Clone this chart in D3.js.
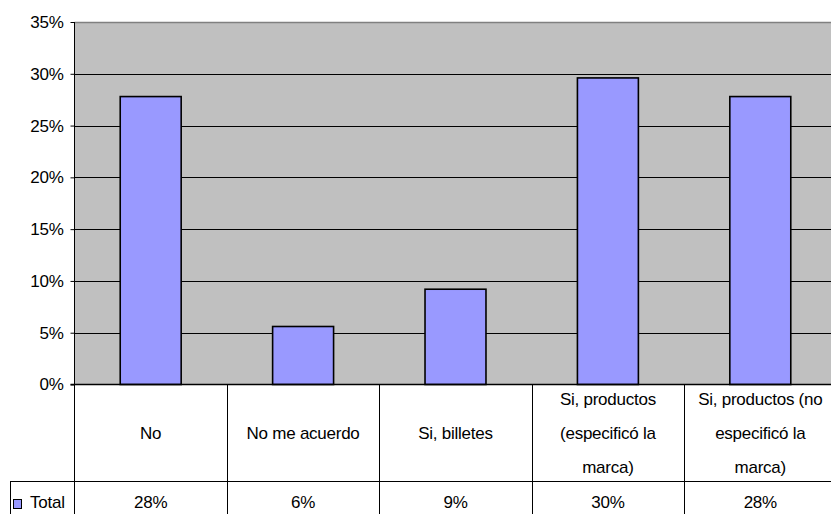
<!DOCTYPE html>
<html>
<head>
<meta charset="utf-8">
<script src="https://cdn.jsdelivr.net/npm/d3@7"></script>
<style>
  html, body { margin: 0; padding: 0; background: #fff; }
  svg { display: block; font-family: "Liberation Sans", Arial, sans-serif; }
</style>
</head>
<body>
<svg id="chart" width="831" height="514"></svg>
<script>
// Survey answers and the share of respondents for each
const categories = [
  "No",
  "No me acuerdo",
  "Si, billetes",
  "Si, productos (especificó la marca)",
  "Si, productos (no especificó la marca)"
];
const totalValues = [0.278, 0.056, 0.092, 0.296, 0.278];
const seriesName = "Total";
const yTicks = [0, 0.05, 0.10, 0.15, 0.20, 0.25, 0.30, 0.35];

const svg = d3.select("#chart");
const W = 831, H = 514;
const plot = { left: 74.5, right: 836.5, top: 22, bottom: 384.5 };
const table = { headerBottom: 481, legendLeft: 10 };
const fontSize = 17;
const spacing = "-0.25px";
const fmt = d3.format(".0%");

// Column cells of the data table and the bars inside them
const col = d3.scaleBand().domain(categories).range([plot.left, plot.right]).padding(0);
const x = d3.scaleBand().domain(categories).range([plot.left, plot.right])
  .paddingInner(0.6).paddingOuter(0.3);
const y = d3.scaleLinear().domain([0, 0.35]).range([plot.bottom, plot.top]);

// Plot background
svg.append("rect")
  .attr("x", plot.left).attr("y", plot.top)
  .attr("width", plot.right - plot.left).attr("height", plot.bottom - plot.top)
  .attr("fill", "#c0c0c0");

// Horizontal gridlines
svg.append("g").selectAll("line")
  .data(yTicks.filter(t => t > 0 && t < 0.35))
  .join("line")
  .attr("x1", plot.left).attr("x2", plot.right)
  .attr("y1", d => Math.round(y(d)) + 0.5).attr("y2", d => Math.round(y(d)) + 0.5)
  .attr("stroke", "#000").attr("stroke-width", 1);

// Top border of the plot
svg.append("line")
  .attr("x1", plot.left).attr("x2", plot.right)
  .attr("y1", plot.top + 0.5).attr("y2", plot.top + 0.5)
  .attr("stroke", "#808080").attr("stroke-width", 1.5);

// Bars
svg.append("g").selectAll("rect")
  .data(categories)
  .join("rect")
  .attr("x", d => x(d))
  .attr("y", (d, i) => y(totalValues[i]))
  .attr("width", x.bandwidth())
  .attr("height", (d, i) => y(0) - y(totalValues[i]))
  .attr("fill", "#9999ff")
  .attr("stroke", "#000")
  .attr("stroke-width", 1.6);

// Y axis
const yAxis = d3.axisLeft(y).tickValues(yTicks).tickFormat(fmt).tickSize(4).tickPadding(7);
const gy = svg.append("g").attr("transform", `translate(${plot.left},0)`).call(yAxis);
gy.select(".domain").remove();
gy.selectAll(".tick line").attr("stroke", "#000");
gy.selectAll(".tick text")
  .attr("font-size", fontSize)
  .attr("font-family", "'Liberation Sans', Arial, sans-serif")
  .attr("letter-spacing", spacing)
  .attr("fill", "#000");

// Table grid lines
const grid = svg.append("g").attr("stroke", "#000").attr("stroke-width", 1);
grid.append("line") // value axis line, continued down through the table
  .attr("x1", plot.left).attr("x2", plot.left)
  .attr("y1", plot.top).attr("y2", H);
grid.append("line") // category baseline
  .attr("x1", plot.left - 4).attr("x2", plot.right)
  .attr("y1", plot.bottom).attr("y2", plot.bottom)
  .attr("stroke-width", 1.5);
grid.append("line") // top of the values row
  .attr("x1", table.legendLeft).attr("x2", plot.right)
  .attr("y1", table.headerBottom + 0.5).attr("y2", table.headerBottom + 0.5);
grid.append("line") // left edge of the legend cell
  .attr("x1", table.legendLeft + 0.5).attr("x2", table.legendLeft + 0.5)
  .attr("y1", table.headerBottom).attr("y2", H);
grid.selectAll("line.sep")
  .data(categories.slice(1))
  .join("line")
  .attr("class", "sep")
  .attr("x1", d => Math.round(col(d)) + 0.5).attr("x2", d => Math.round(col(d)) + 0.5)
  .attr("y1", plot.bottom).attr("y2", H);

// Category labels, wrapped inside their cells
const headerMid = (plot.bottom + table.headerBottom) / 2;
const lineStep = 34;
const labels = svg.append("g")
  .attr("font-size", fontSize)
  .attr("letter-spacing", spacing)
  .attr("text-anchor", "middle");

categories.forEach(cat => {
  const cx = col(cat) + col.bandwidth() / 2;
  const maxW = 140;
  const probe = labels.append("text").attr("visibility", "hidden");
  const words = cat.split(" ");
  const lines = [];
  let cur = "";
  words.forEach(w => {
    const test = cur ? cur + " " + w : w;
    probe.text(test);
    if (probe.node().getComputedTextLength() > maxW && cur) {
      lines.push(cur);
      cur = w;
    } else {
      cur = test;
    }
  });
  if (cur) lines.push(cur);
  probe.remove();
  const t = labels.append("text").attr("x", cx);
  lines.forEach((ln, i) => {
    t.append("tspan")
      .attr("x", cx)
      .attr("y", headerMid + (i - (lines.length - 1) / 2) * lineStep)
      .attr("dy", "0.36em")
      .text(ln);
  });
});

// Values row
const rowMid = 502;
svg.append("g")
  .attr("font-size", fontSize)
  .attr("letter-spacing", spacing)
  .attr("text-anchor", "middle")
  .selectAll("text")
  .data(categories)
  .join("text")
  .attr("x", d => col(d) + col.bandwidth() / 2)
  .attr("y", rowMid)
  .attr("dy", "0.36em")
  .text((d, i) => fmt(totalValues[i]));

// Legend key for the series
svg.append("rect")
  .attr("x", 13.5).attr("y", 499.5).attr("width", 8).attr("height", 9)
  .attr("fill", "#9999ff").attr("stroke", "#000").attr("stroke-width", 1);
svg.append("text")
  .attr("x", 30).attr("y", rowMid).attr("dy", "0.36em")
  .attr("font-size", fontSize)
  .attr("letter-spacing", spacing)
  .text(seriesName);
</script>
</body>
</html>
